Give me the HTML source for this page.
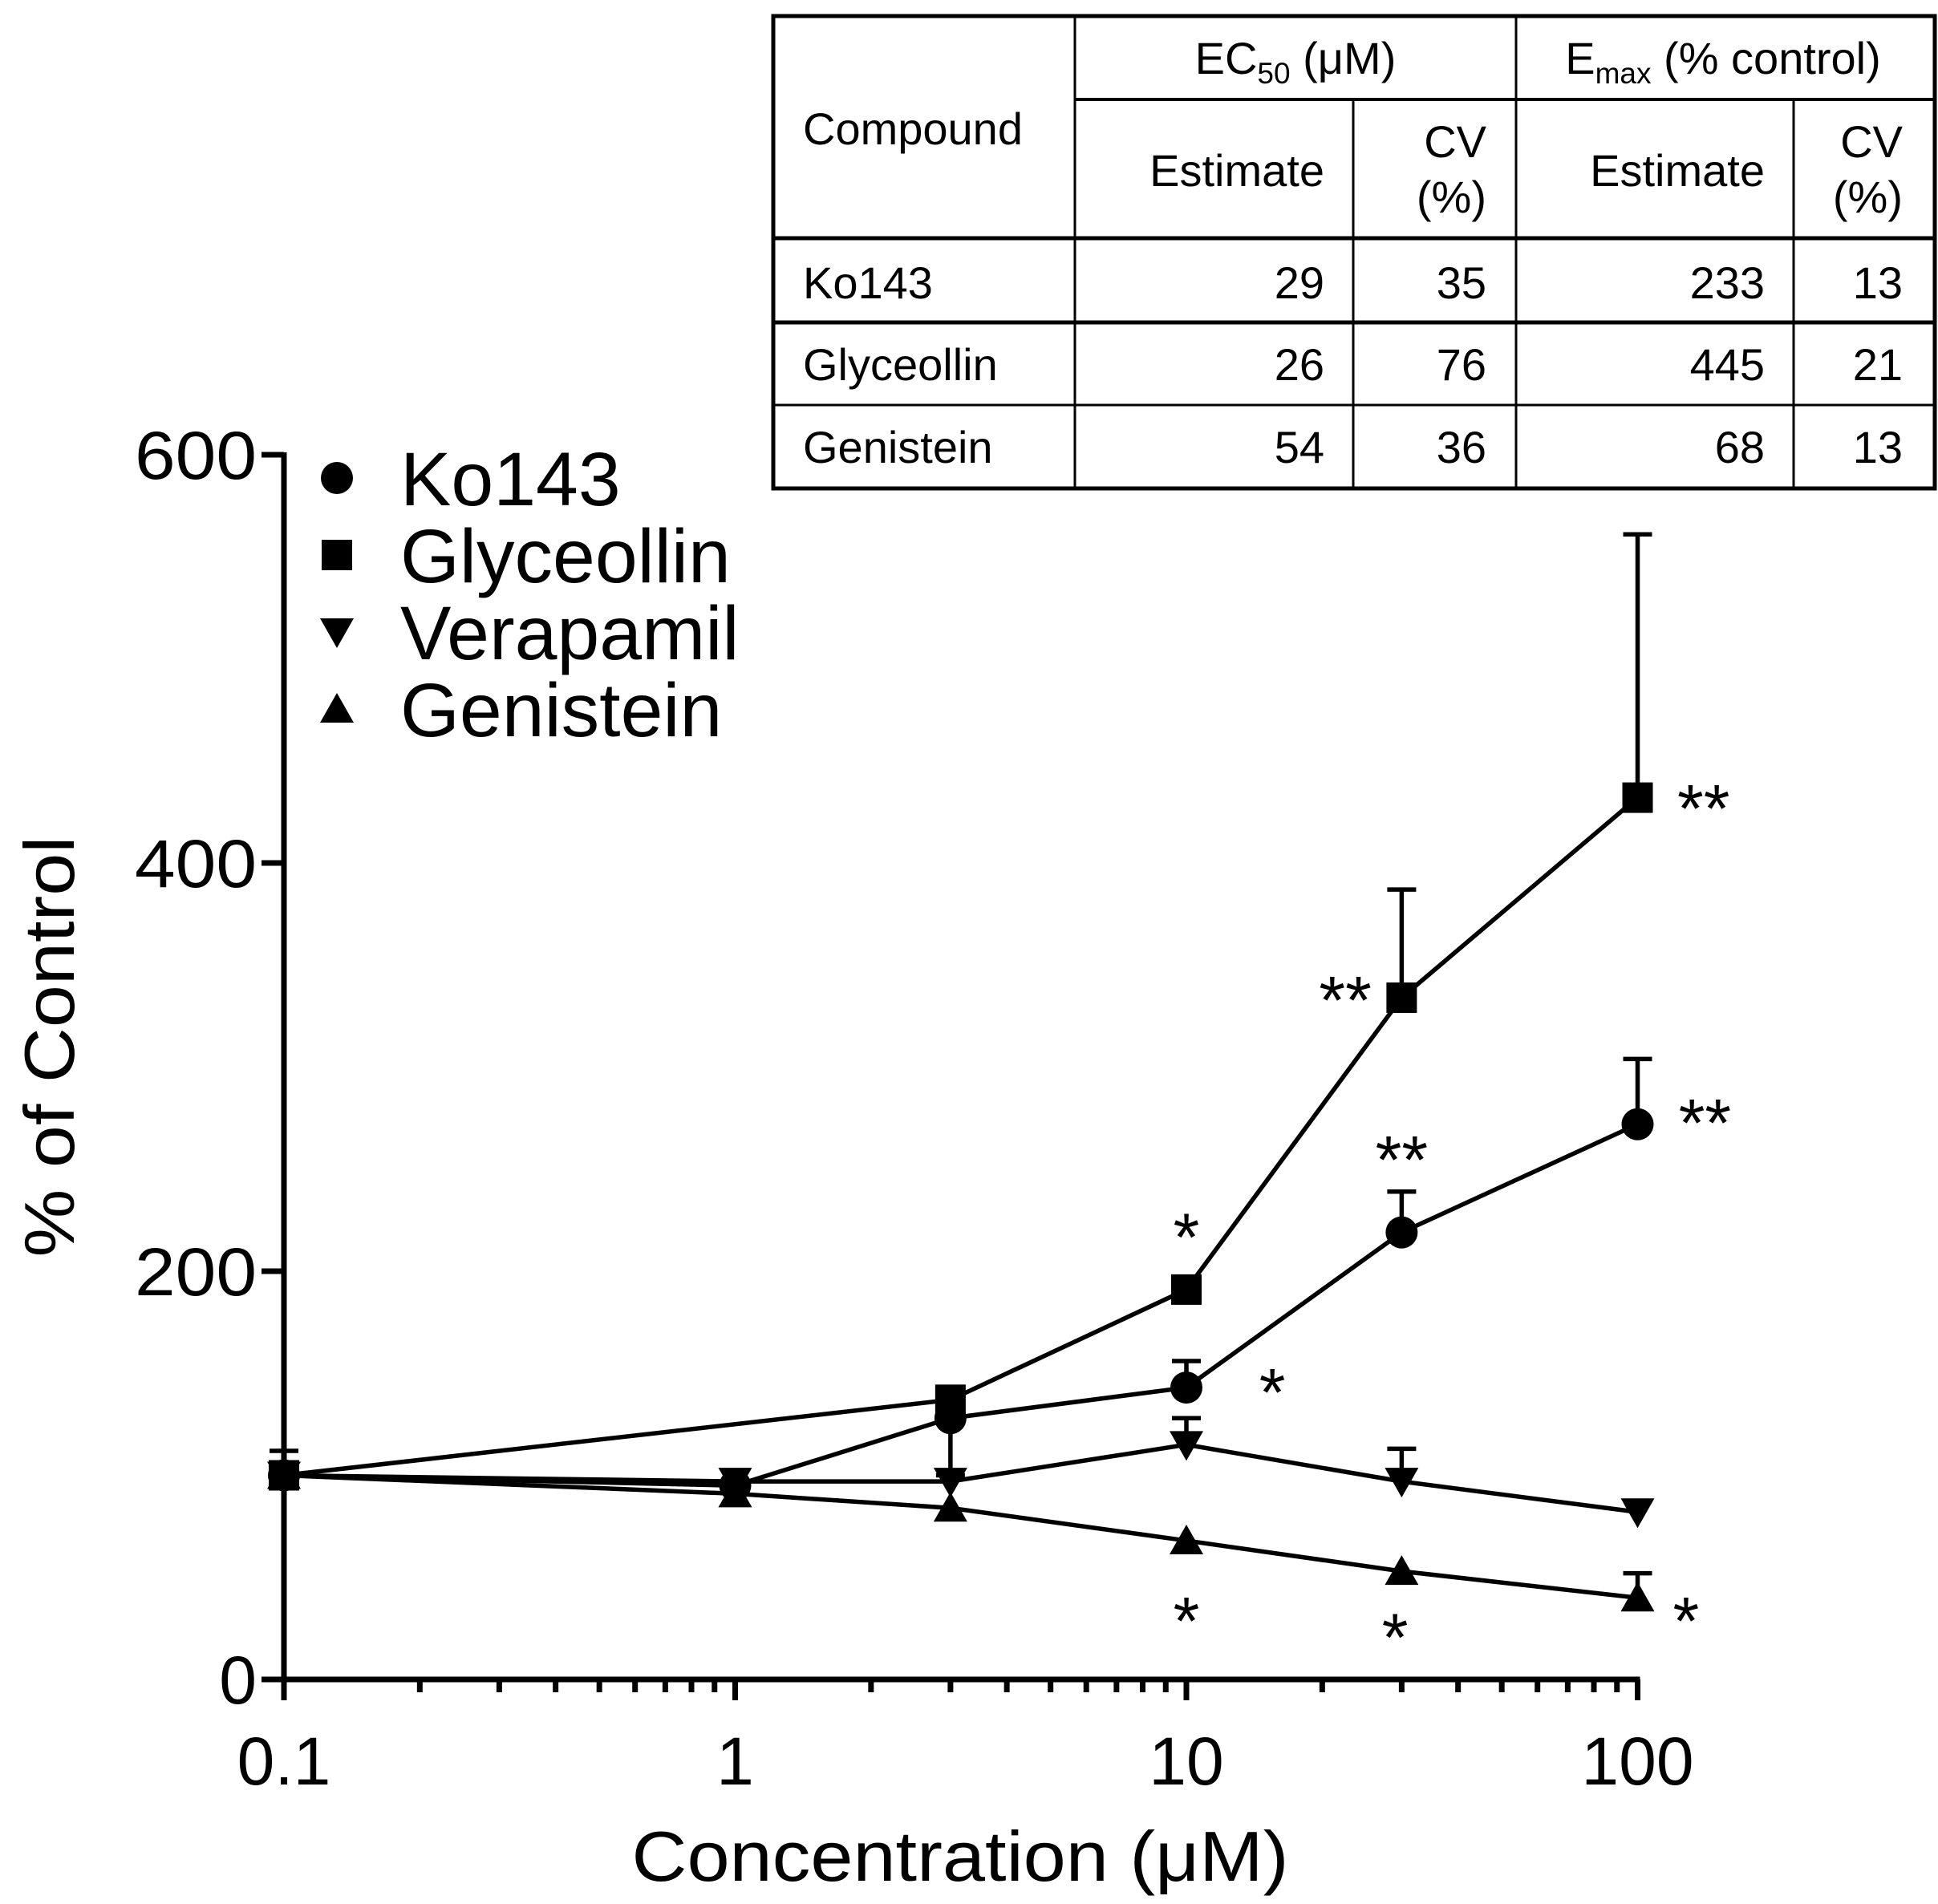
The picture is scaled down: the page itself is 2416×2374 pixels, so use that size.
<!DOCTYPE html>
<html><head><meta charset="utf-8"><style>
html,body{margin:0;padding:0;background:#fff}
svg{display:block}
text{font-family:"Liberation Sans",Arial,sans-serif;fill:#000}
</style></head><body>
<svg id="chart" width="2416" height="2374" viewBox="0 0 2416 2374" xmlns="http://www.w3.org/2000/svg">
<g id="table" stroke="#000" fill="none">
  <rect x="964" y="20" width="1448" height="589" stroke-width="5"/>
  <line x1="1340" y1="20" x2="1340" y2="609" stroke-width="3"/>
  <line x1="1890" y1="20" x2="1890" y2="609" stroke-width="3"/>
  <line x1="1687" y1="124" x2="1687" y2="609" stroke-width="3"/>
  <line x1="2236" y1="124" x2="2236" y2="609" stroke-width="3"/>
  <line x1="1340" y1="124" x2="2412" y2="124" stroke-width="4"/>
  <line x1="964" y1="297" x2="2412" y2="297" stroke-width="5"/>
  <line x1="964" y1="402" x2="2412" y2="402" stroke-width="5"/>
  <line x1="964" y1="505" x2="2412" y2="505" stroke-width="3"/>
</g>
<g font-size="56">
  <text x="1001" y="180">Compound</text>
  <text x="1615" y="92" text-anchor="middle">EC<tspan font-size="37" dy="12">50</tspan><tspan dy="-12"> (μM)</tspan></text>
  <text x="2148" y="92" text-anchor="middle">E<tspan font-size="37" dy="12">max</tspan><tspan dy="-12"> (% control)</tspan></text>
  <text x="1651" y="232" text-anchor="end">Estimate</text>
  <text x="1853" y="196" text-anchor="end">CV</text>
  <text x="1853" y="265" text-anchor="end">(%)</text>
  <text x="2200" y="232" text-anchor="end">Estimate</text>
  <text x="2372" y="196" text-anchor="end">CV</text>
  <text x="2372" y="265" text-anchor="end">(%)</text>
  <text x="1001" y="372">Ko143</text>
  <text x="1651" y="372" text-anchor="end">29</text>
  <text x="1853" y="372" text-anchor="end">35</text>
  <text x="2200" y="372" text-anchor="end">233</text>
  <text x="2372" y="372" text-anchor="end">13</text>
  <text x="1001" y="474">Glyceollin</text>
  <text x="1651" y="474" text-anchor="end">26</text>
  <text x="1853" y="474" text-anchor="end">76</text>
  <text x="2200" y="474" text-anchor="end">445</text>
  <text x="2372" y="474" text-anchor="end">21</text>
  <text x="1001" y="577">Genistein</text>
  <text x="1651" y="577" text-anchor="end">54</text>
  <text x="1853" y="577" text-anchor="end">36</text>
  <text x="2200" y="577" text-anchor="end">68</text>
  <text x="2372" y="577" text-anchor="end">13</text>
</g>
<g id="plot"></g>
</svg>
<script>
const concs = [0.1, 1, 3, 10, 30, 100];
const ko143 = [100, 95, 128, 143, 219, 272];
const ko143Err = [0, 0, -28, 13, 20, 32];
const glyceollin = [100, null, 137, 191, 334, 432];
const glyceollinErr = [12, 0, 0, 0, 53, 129];
const verapamil = [100, 97, 97, 115, 97, 82];
const verapamilErr = [0, 0, 0, 13, 16, 0];
const genistein = [100, 91, 84, 68, 53, 40];
const genisteinErr = [0, 0, 0, 0, 0, 12];
const yTicks = [0, 200, 400, 600];
const xTicks = [0.1, 1, 10, 100];
const xTickLabels = ["0.1", "1", "10", "100"];
const starLabels = ["*", "**", "**", "**", "**", "*", "*", "*", "*"];
const starX = [10, 22.5, 140, 30, 141, 15.5, 10, 29, 128];
const starY = [223, 339, 433, 261, 279, 147, 35, 27, 35];

const X0 = 354, DEC = 562.5, Y0 = 2094, PER = 2.545;
const xs = v => X0 + (Math.log10(v) + 1) * DEC;
const ys = v => Y0 - v * PER;
const NS = "http://www.w3.org/2000/svg";
const plot = document.getElementById('plot');
function mk(tag, attrs, parent) {
  const e = document.createElementNS(NS, tag);
  for (const k in attrs) e.setAttribute(k, attrs[k]);
  (parent || plot).appendChild(e);
  return e;
}
let ya = mk('line', {x1: X0, y1: ys(600) - 3, x2: X0, y2: Y0 + 3, stroke: '#000', 'stroke-width': 7});


let xa = mk('line', {x1: X0 - 3, y1: Y0, x2: xs(100) + 3, y2: Y0, stroke: '#000', 'stroke-width': 7});


yTicks.forEach(t => {
  mk('line', {x1: X0 - 28, y1: ys(t), x2: X0, y2: ys(t), stroke: '#000', 'stroke-width': 7});
  const tx = mk('text', {x: 320, y: ys(t) + 30, 'text-anchor': 'end', 'font-size': 84});
  tx.textContent = t;
  if (String(t).length === 3) { tx.setAttribute('textLength', 152); tx.setAttribute('lengthAdjust', 'spacingAndGlyphs'); }
  
  
});
for (let d = -1; d < 2; d++) {
  for (let m = 1; m <= 10; m++) {
    const v = m * Math.pow(10, d);
    if (v > 100) continue;
    const major = (m === 1 || m === 10);
    mk('line', {x1: xs(v), y1: Y0, x2: xs(v), y2: Y0 + (major ? 26 : 16), stroke: '#000', 'stroke-width': 7});
  }
}
xTicks.forEach((t, i) => {
  const tx = mk('text', {x: xs(t), y: 2225, 'text-anchor': 'middle', 'font-size': 84});
  tx.textContent = xTickLabels[i];
  
  
});
let xt = mk('text', {x: 1197, y: 2345, 'text-anchor': 'middle', 'font-size': 88, textLength: 819, lengthAdjust: 'spacingAndGlyphs'});
xt.textContent = 'Concentration (μM)';


let yt = mk('text', {x: 0, y: 0, 'text-anchor': 'middle', 'font-size': 88, textLength: 525, lengthAdjust: 'spacingAndGlyphs', transform: 'translate(92,1305) rotate(-90)'});
yt.textContent = '% of Control';



function marker(type, cx, cy, parent) {
  const s = 19;
  if (type === 'circle') return mk('circle', {cx, cy, r: 20, fill: '#000'}, parent);
  if (type === 'square') return mk('rect', {x: cx - s, y: cy - s, width: 2 * s, height: 2 * s, fill: '#000'}, parent);
  if (type === 'down') return mk('polygon', {points: `${cx-21},${cy-17} ${cx+21},${cy-17} ${cx},${cy+20}`, fill: '#000'}, parent);
  return mk('polygon', {points: `${cx-21},${cy+17} ${cx+21},${cy+17} ${cx},${cy-20}`, fill: '#000'}, parent);
}
const series = [
  {name: 'genistein', vals: genistein, err: genisteinErr, m: 'up'},
  {name: 'verapamil', vals: verapamil, err: verapamilErr, m: 'down'},
  {name: 'ko143', vals: ko143, err: ko143Err, m: 'circle'},
  {name: 'glyceollin', vals: glyceollin, err: glyceollinErr, m: 'square'},
];
series.forEach(s => {
  const g = mk('g', {});
  
  
  const pts = [];
  s.vals.forEach((v, i) => { if (v !== null) pts.push([xs(concs[i]), ys(v)]); });
  const ln = mk('polyline', {points: pts.map(p => p.join(',')).join(' '), fill: 'none', stroke: '#000', 'stroke-width': 5.5}, g);
  
  
  s.vals.forEach((v, i) => {
    if (v === null) return;
    const cx = xs(concs[i]);
    if (s.err[i]) {
      const ye = ys(v + s.err[i]);
      mk('line', {x1: cx, y1: ys(v), x2: cx, y2: ye, stroke: '#000', 'stroke-width': 5.5}, g);
      mk('line', {x1: cx - 18, y1: ye, x2: cx + 18, y2: ye, stroke: '#000', 'stroke-width': 5.5}, g);
    }
    const mkr = marker(s.m, cx, ys(v), g);
    
    
  });
});
starLabels.forEach((lab, i) => {
  const t = mk('text', {x: xs(starX[i]), y: ys(starY[i]) + 45, 'text-anchor': 'middle', 'font-size': 84});
  t.textContent = lab;
  
  
});
const legNames = ['Ko143', 'Glyceollin', 'Verapamil', 'Genistein'];
const legMarks = ['circle', 'square', 'down', 'up'];
const legG = mk('g', {});


legNames.forEach((n, i) => {
  const y = 596 + i * 96;
  const m = marker(legMarks[i], 420, y, legG);
  
  
  const t = mk('text', {x: 499, y: y + 34, 'font-size': 95}, legG);
  t.textContent = n;
  
  
});
</script>
</body></html>
